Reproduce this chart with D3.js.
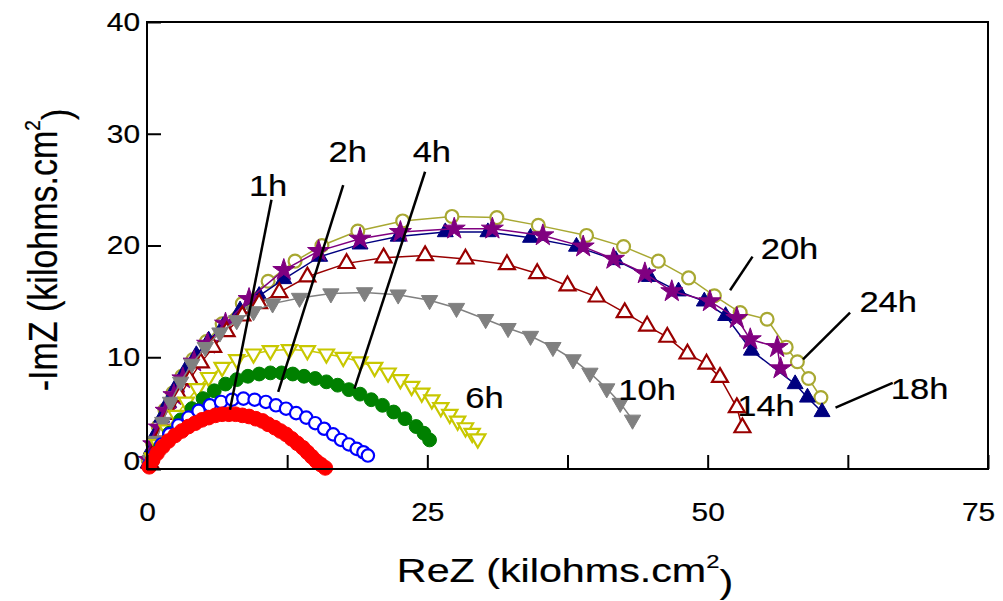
<!DOCTYPE html>
<html>
<head>
<meta charset="utf-8">
<script src="https://cdn.jsdelivr.net/npm/d3@7"></script>
<style>
    body { margin: 0; background: #fff; }
    text { font-family: Arial, 'Liberation Sans', sans-serif; fill: #000; stroke: #000; stroke-width: 0.2px; }
</style>
</head>
<body>
<svg id="chart" width="1003" height="601"></svg>
<script>
// Nyquist data, kilohms.cm2, [ReZ, -ImZ]
const h1 = [[0.2, 0.2], [0.5, 0.8], [0.9, 1.4], [1.4, 2.0], [1.9, 2.5], [2.5, 3.0], [3.1, 3.4],
    [3.7, 3.8], [4.3, 4.1], [4.9, 4.4], [5.5, 4.6], [6.1, 4.8], [6.7, 4.9], [7.3, 4.9], [7.9, 4.9],
    [8.5, 4.8], [9.1, 4.7], [9.7, 4.5], [10.3, 4.3], [10.8, 4.0], [11.4, 3.7], [11.9, 3.4],
    [12.4, 3.1], [12.9, 2.7], [13.4, 2.3], [13.9, 1.9], [14.3, 1.5], [14.7, 1.1], [15.1, 0.7],
    [15.5, 0.4], [15.9, 0.1]];
const h2 = [[0.2, 0.4], [0.7, 1.3], [1.3, 2.2], [2.0, 3.1], [2.8, 3.9], [3.7, 4.6], [4.6, 5.2],
    [5.6, 5.7], [6.6, 6.0], [7.6, 6.2], [8.6, 6.3], [9.6, 6.2], [10.6, 6.0], [11.5, 5.7],
    [12.4, 5.4], [13.3, 5.0], [14.2, 4.6], [15.0, 4.1], [15.8, 3.6], [16.6, 3.1], [17.3, 2.6],
    [18.0, 2.2], [18.7, 1.8], [19.3, 1.5], [19.7, 1.2]];
const h4 = [[0.5, 0.8], [1.2, 2.0], [2.0, 3.2], [3.0, 4.4], [4.0, 5.4], [5.0, 6.3], [6.0, 7.0],
    [7.0, 7.6], [8.0, 8.0], [9.0, 8.3], [10.0, 8.5], [11.0, 8.6], [12.0, 8.6], [13.0, 8.5],
    [14.0, 8.3], [15.0, 8.1], [16.0, 7.8], [17.0, 7.5], [18.0, 7.1], [19.0, 6.7], [20.0, 6.2],
    [21.0, 5.7], [22.0, 5.1], [23.0, 4.5], [24.0, 3.8], [24.7, 3.2], [25.2, 2.6]];
const h6 = [[0.5, 1.0], [1.0, 2.2], [1.8, 3.5], [2.6, 4.8], [3.5, 6.0], [4.5, 7.2], [5.5, 8.2],
    [6.7, 9.1], [8.0, 9.8], [9.5, 10.3], [11.0, 10.6], [12.7, 10.7], [14.3, 10.6], [16.0, 10.3],
    [17.5, 10.0], [19.0, 9.6], [20.3, 9.1], [21.5, 8.6], [22.6, 8.0], [23.6, 7.4], [24.5, 6.8],
    [25.4, 6.2], [26.2, 5.5], [27.0, 4.9], [27.7, 4.3], [28.4, 3.7], [29.0, 3.2], [29.5, 2.7]];
const h10 = [[0.3, 0.8], [0.8, 2.5], [1.4, 4.2], [2.1, 6.0], [3.0, 7.8], [4.0, 9.4], [5.2, 10.9],
    [6.5, 12.2], [8.0, 13.3], [9.5, 14.1], [11.2, 14.8], [13.6, 15.3], [16.4, 15.7], [19.4, 15.8],
    [22.4, 15.6], [25.2, 15.1], [27.6, 14.4], [30.2, 13.4], [32.2, 12.6], [34.2, 11.9],
    [36.2, 10.9], [38.0, 9.8], [39.5, 8.6], [41.0, 7.2], [42.2, 5.9], [43.3, 4.4]];
const h14 = [[0.3, 0.5], [0.8, 1.8], [1.4, 3.3], [2.1, 4.9], [2.9, 6.5], [3.8, 8.0], [4.8, 9.5],
    [5.9, 10.9], [7.1, 12.3], [8.5, 13.7], [10.0, 14.8], [11.8, 15.8], [14.3, 17.2], [17.8, 18.4],
    [21.1, 18.9], [24.8, 19.1], [28.4, 18.8], [32.1, 18.3], [34.8, 17.5], [37.5, 16.4],
    [40.1, 15.4], [42.6, 14.0], [44.6, 12.8], [46.4, 11.8], [48.2, 10.3], [49.9, 9.4],
    [51.1, 8.2], [52.6, 5.5], [53.1, 3.7]];
const h18 = [[0.1, 0.5], [0.4, 1.8], [0.8, 3.2], [1.3, 4.6], [1.9, 6.0], [2.6, 7.4], [3.4, 8.8],
    [4.4, 10.2], [5.5, 11.5], [6.8, 12.8], [8.3, 14.2], [10.0, 15.5], [12.2, 17.0], [15.4, 19.0],
    [19.0, 20.1], [22.4, 20.8], [26.6, 21.2], [30.4, 21.2], [34.2, 20.7], [38.3, 19.9],
    [41.8, 18.7], [44.8, 17.2], [47.4, 15.9], [49.7, 15.0], [51.6, 13.7], [53.9, 10.6],
    [57.8, 7.6], [58.9, 6.4], [60.2, 5.1]];
const h20 = [[0.2, 0.8], [0.6, 2.2], [1.1, 3.7], [1.7, 5.2], [2.4, 6.6], [3.2, 8.1], [4.2, 9.6],
    [5.4, 11.2], [7.0, 13.0], [9.1, 15.2], [12.2, 17.8], [15.3, 19.5], [19.0, 20.6], [22.6, 21.2],
    [27.4, 21.5], [30.8, 21.5], [35.3, 20.9], [38.9, 19.9], [41.6, 18.8], [44.4, 17.5],
    [46.8, 15.9], [50.2, 15.0], [52.6, 13.5], [53.8, 11.6], [56.2, 10.9], [56.5, 9.0]];
const h24 = [[0.1, 0.8], [0.5, 2.3], [1.0, 3.8], [1.6, 5.3], [2.3, 6.8], [3.1, 8.3], [4.1, 9.8],
    [5.3, 11.4], [6.7, 13.0], [8.5, 14.8], [10.8, 16.8], [13.2, 18.6], [15.6, 20.0], [18.8, 21.3],
    [22.8, 22.2], [27.2, 22.6], [31.2, 22.5], [34.9, 21.8], [39.2, 20.9], [42.5, 19.9],
    [45.6, 18.6], [48.3, 17.1], [50.6, 15.5], [52.9, 14.0], [55.3, 13.4], [57.0, 10.9],
    [58.0, 9.6], [59.0, 8.1], [60.1, 6.4]];

const xTicks = [0, 12.5, 25, 37.5, 50, 62.5, 75];
const yTicks = [0, 10, 20, 30, 40];

// drawing order: later series sit on top
const series = [
    { name: '24h', data: h24, color: '#a8a832', shape: 'circle', open: true, size: 130 },
    { name: '18h', data: h18, color: '#000080', shape: 'up', open: false, size: 110 },
    { name: '20h', data: h20, color: '#800080', shape: 'star', open: false, size: 150 },
    { name: '14h', data: h14, color: '#990000', shape: 'up', open: true, size: 110 },
    { name: '10h', data: h10, color: '#808080', shape: 'down', open: false, size: 115 },
    { name: '6h', data: h6, color: '#c8c800', shape: 'down', open: true, size: 100 },
    { name: '4h', data: h4, color: '#008000', shape: 'circle', open: false, size: 150 },
    { name: '2h', data: h2, color: '#0000ff', shape: 'circle', open: true, size: 120 },
    { name: '1h', data: h1, color: '#ff0000', shape: 'circle', open: false, size: 170 },
];

// annotations, in data units: text centre and optional leader line
const labels = [
    { text: '1h', at: [10.8, 25.4], line: [[11.1, 24.1], [7.4, 5.3]] },
    { text: '2h', at: [17.9, 28.4], line: [[17.5, 25.4], [11.7, 6.9]] },
    { text: '4h', at: [25.4, 28.4], line: [[24.8, 26.6], [18.5, 7.2]] },
    { text: '6h', at: [30.1, 6.4] },
    { text: '10h', at: [44.6, 7.1] },
    { text: '14h', at: [55.2, 5.7] },
    { text: '20h', at: [57.3, 19.8], line: [[54.0, 19.0], [52.0, 16.0]] },
    { text: '24h', at: [66.1, 15.0], line: [[62.7, 14.0], [58.5, 9.8]] },
    { text: '18h', at: [68.9, 7.2], line: [[66.5, 7.7], [61.4, 5.5]] },
];

const stretch = 1.15; // the source figure is stretched sideways

const svg = d3.select('#chart');
const x = d3.scaleLinear().domain([0, 75]).range([147, 988]);
const y = d3.scaleLinear().domain([0, 40]).range([469, 22]);

const symbols = { circle: d3.symbolCircle, up: d3.symbolTriangle, down: d3.symbolTriangle, star: d3.symbolStar };

// series: thin joining line, then markers
const line = d3.line().x(d => x(d[0])).y(d => y(d[1]));
for (const s of series) {
    const g = svg.append('g').classed('series', true);
    g.append('path')
        .attr('d', line(s.data))
        .attr('fill', 'none')
        .attr('stroke', s.color)
        .attr('stroke-width', 1.5);
    const sym = d3.symbol().type(symbols[s.shape]).size(s.size);
    g.selectAll('path.m')
        .data(s.data)
        .join('path')
        .classed('m', true)
        .attr('d', sym)
        .attr('transform', d => `translate(${ x(d[0]) },${ y(d[1]) })` + (s.shape === 'down' ? ' rotate(180)' : ''))
        .attr('fill', s.open ? '#fff' : s.color)
        .attr('stroke', s.color)
        .attr('stroke-width', s.open ? 2.2 : 1);
}

// frame
svg.append('rect')
    .attr('x', x(0)).attr('y', y(40))
    .attr('width', x(75) - x(0)).attr('height', y(0) - y(40))
    .attr('fill', 'none').attr('stroke', '#000').attr('stroke-width', 2);

const xAxis = svg.append('g')
    .attr('transform', `translate(0,${ y(0) })`)
    .call(d3.axisBottom(x).tickValues(xTicks).tickSizeInner(-14).tickSizeOuter(0).tickPadding(34)
        .tickFormat(d => d % 25 === 0 ? d : ''));
const yAxis = svg.append('g')
    .attr('transform', `translate(${ x(0) },0)`)
    .call(d3.axisLeft(y).tickValues(yTicks).tickSizeInner(-14).tickSizeOuter(0).tickPadding(7));

for (const ax of [xAxis, yAxis]) {
    ax.select('.domain').remove();
    ax.selectAll('line').attr('stroke-width', 2);
    ax.selectAll('text')
        .style('font-size', '26px')
        .style('font-family', 'Arial, Liberation Sans, sans-serif')
        .attr('fill', '#000')
        .attr('transform', `scale(${ stretch },1)`);
}
yAxis.selectAll('text').attr('x', -7 / stretch);
// Excel pulls the end labels inside the picture
xAxis.selectAll('text').filter(d => d === 75).attr('x', -10 / stretch);
yAxis.selectAll('text').filter(d => d === 0).attr('y', -8);

// annotations
const ann = svg.append('g').classed('labels', true);
for (const l of labels) {
    if (l.line) {
        ann.append('line')
            .attr('x1', x(l.line[0][0])).attr('y1', y(l.line[0][1]))
            .attr('x2', x(l.line[1][0])).attr('y2', y(l.line[1][1]))
            .attr('stroke', '#000').attr('stroke-width', 2.5);
    }
    ann.append('text')
        .attr('transform', `translate(${ x(l.at[0]) },${ y(l.at[1]) }) scale(${ stretch },1)`)
        .attr('text-anchor', 'middle')
        .attr('dy', '0.36em')
        .style('font-size', '30px')
        .text(l.text);
}

// axis titles, with a raised "2"
function title(g, prefix) {
    g.append('tspan').text(prefix + ' (kilohms.cm');
    g.append('tspan').attr('dy', '-0.75em').style('font-size', '19px').text('2');
    g.append('tspan').attr('dy', '0.75em').text(')');
}
const xt = svg.append('text')
    .attr('transform', `translate(565,582) scale(1.25,1)`)
    .attr('text-anchor', 'middle')
    .style('font-size', '33px');
title(xt, 'ReZ');
const yt = svg.append('text')
    .attr('transform', `translate(57,250) rotate(-90) scale(1,1.2)`)
    .attr('text-anchor', 'middle')
    .style('font-size', '34px');
title(yt, '-ImZ');
</script>
</body>
</html>
